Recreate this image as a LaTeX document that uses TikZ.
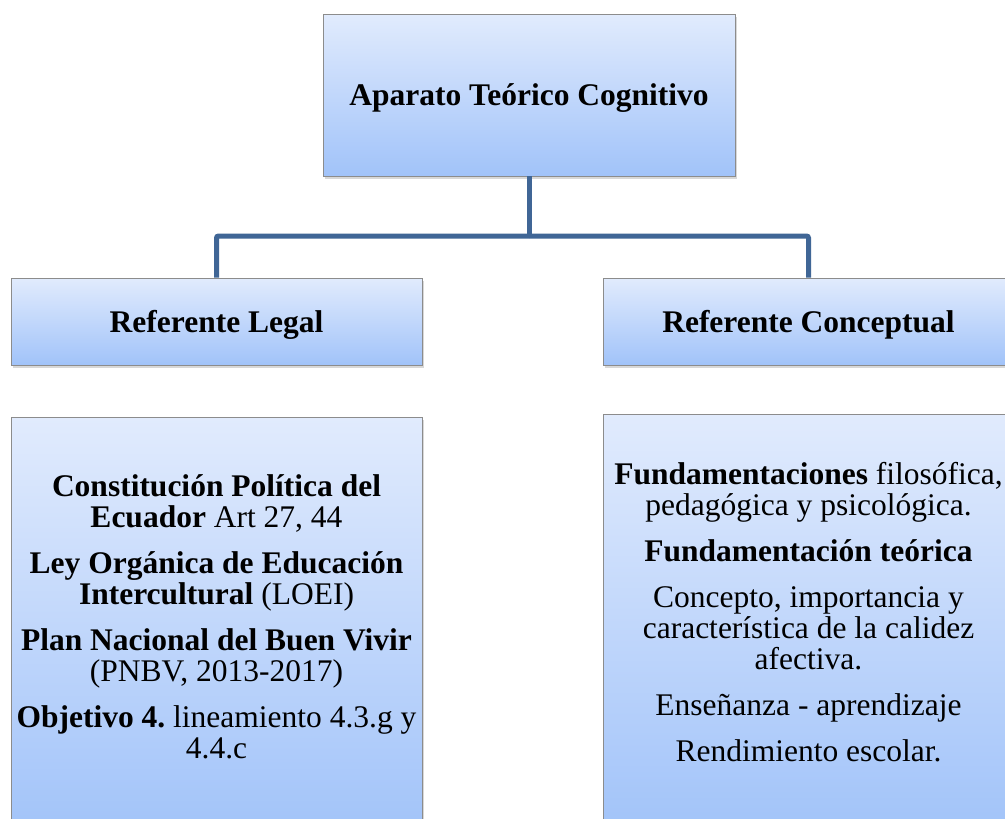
\documentclass[tikz,border=0pt]{standalone}
\usepackage{fontspec}
\setmainfont{Liberation Serif}
\usetikzlibrary{shadows}
\definecolor{boxtop}{RGB}{225,235,253}
\definecolor{boxbot}{RGB}{161,195,249}
\definecolor{boxline}{RGB}{140,140,140}
\definecolor{linkblue}{RGB}{64,102,150}
\tikzset{
    box/.style={draw=boxline,line width=0.8pt,top color=boxtop,bottom color=boxbot,
        drop shadow={shadow xshift=2pt,shadow yshift=-3pt,opacity=0.3},inner sep=0pt},
    head/.style={font=\bfseries\fontsize{31.5}{31}\selectfont,text depth=0pt},
    body/.style={align=center,inner sep=0pt,font=\fontsize{31.5}{31}\selectfont},
    link/.style={draw=linkblue,line width=5pt,rounded corners=2pt}
}
\frenchspacing
\begin{document}
\begin{tikzpicture}[x=1pt,y=-1pt]
\clip (0,0) rectangle (1005,819);
\fill[white] (0,0) rectangle (1005,819);
\node[box,minimum width=412pt,minimum height=162pt,head] (top) at (529,95) {Aparato Teórico Cognitivo};
\node[box,minimum width=411pt,minimum height=87pt,head] (legal) at (216.5,321.5) {Referente Legal};
\node[box,minimum width=411pt,minimum height=87pt,head] (concep) at (808.5,321.5) {Referente Conceptual};
\node[box,minimum width=411pt,minimum height=420pt] (legalbox) at (216.5,627) {};
\node[box,minimum width=411pt,minimum height=420pt] (concepbox) at (808.5,624) {};
\coordinate (hub) at (529,236);
\draw[link] (top.south) -- (hub);
\draw[link] (hub) -| (legal.north);
\draw[link] (hub) -| (concep.north);
\node[body,anchor=north] (legaltxt) at (216.5,474) {%
\textbf{Constitución Política del}\\\textbf{Ecuador} Art 27, 44\\[15pt]
\textbf{Ley Orgánica de Educación}\\\textbf{Intercultural} (LOEI)\\[15pt]
\textbf{Plan Nacional del Buen Vivir}\\(PNBV, 2013-2017)\\[15pt]
\textbf{Objetivo 4.} lineamiento 4.3.g y\\4.4.c};
\node[body,anchor=north] (conceptxt) at (808.5,462) {%
\textbf{Fundamentaciones} filosófica,\\pedagógica y psicológica.\\[15pt]
\textbf{Fundamentación teórica}\\[15pt]
Concepto, importancia y\\característica de la calidez\\afectiva.\\[15pt]
Enseñanza - aprendizaje\\[15pt]
Rendimiento escolar.};
\end{tikzpicture}
\end{document}
